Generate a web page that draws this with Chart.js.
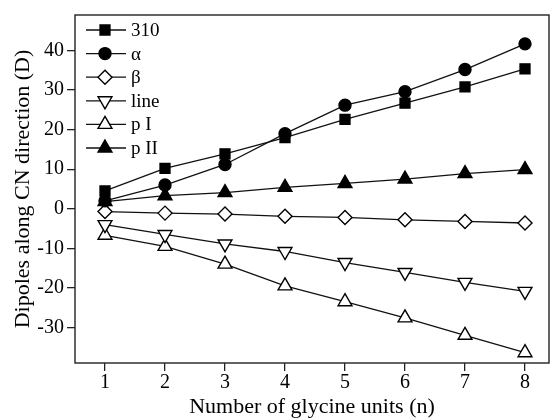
<!DOCTYPE html>
<html>
<head>
<meta charset="utf-8">
<script src="https://cdn.jsdelivr.net/npm/chart.js@4/dist/chart.umd.min.js"></script>
<style>
html,body{margin:0;padding:0;background:#fff;}
#wrap{width:550px;height:420px;position:relative;}
</style>
</head>
<body>
<div id="wrap"><canvas id="c" width="550" height="420"></canvas></div>
<script>
const units = [1, 2, 3, 4, 5, 6, 7, 8];
const s310 = [4.5, 10.2, 13.9, 18.0, 22.6, 26.7, 30.8, 35.4];
const sAlpha = [2.0, 6.0, 11.2, 19.0, 26.2, 29.6, 35.2, 41.7];
const sBeta = [-0.7, -1.1, -1.35, -1.9, -2.2, -2.8, -3.2, -3.6];
const sLine = [-4.0, -6.5, -8.9, -10.8, -13.6, -16.1, -18.6, -20.9];
const sPI = [-6.7, -9.5, -14.0, -19.5, -23.5, -27.6, -32.0, -36.4];
const sPII = [1.8, 3.3, 4.1, 5.4, 6.4, 7.5, 8.9, 9.9];
const xTicks = [1, 2, 3, 4, 5, 6, 7, 8];
const yTicks = [-30, -20, -10, 0, 10, 20, 30, 40];
const seriesNames = ['310', 'α', 'β', 'line', 'p I', 'p II'];

const FONT = "'Liberation Serif', 'DejaVu Serif', serif";
const styles = [
  {pointStyle: 'rect', r: 7, fill: '#000', rot: 0},
  {pointStyle: 'circle', r: 6, fill: '#000', rot: 0},
  {pointStyle: 'rectRot', r: 7, fill: '#fff', rot: 0},
  {pointStyle: 'triangle', r: 8, fill: '#fff', rot: 180},
  {pointStyle: 'triangle', r: 8, fill: '#fff', rot: 0},
  {pointStyle: 'triangle', r: 8, fill: '#000', rot: 0}
];
const allSeries = [s310, sAlpha, sBeta, sLine, sPI, sPII];

const datasets = allSeries.map((vals, i) => ({
  label: seriesNames[i],
  data: units.map((u, j) => ({x: u, y: vals[j]})),
  borderColor: '#111',
  borderWidth: 1.3,
  pointStyle: styles[i].pointStyle,
  pointRadius: styles[i].r,
  pointRotation: styles[i].rot,
  pointBackgroundColor: styles[i].fill,
  pointBorderColor: '#000',
  pointBorderWidth: 1.4,
  showLine: true,
  tension: 0,
  clip: false
}));

const framePlugin = {
  id: 'frame',
  afterDatasetsDraw(chart) {
    const {ctx, chartArea: a} = chart;
    ctx.save();
    ctx.strokeStyle = '#222';
    ctx.lineWidth = 1.4;
    ctx.strokeRect(a.left, a.top, a.right - a.left, a.bottom - a.top);
    ctx.restore();
  }
};

const legendPlugin = {
  id: 'innerLegend',
  afterDatasetsDraw(chart) {
    const {ctx, chartArea: a} = chart;
    ctx.save();
    const x0 = a.left + 11, x1 = a.left + 51, xm = a.left + 30;
    const y0 = a.top + 15, dy = 23.6;
    ctx.font = '19px ' + FONT;
    ctx.textBaseline = 'middle';
    ctx.textAlign = 'left';
    seriesNames.forEach((name, i) => {
      const y = y0 + i * dy;
      ctx.strokeStyle = '#111';
      ctx.lineWidth = 1.3;
      ctx.beginPath();
      ctx.moveTo(x0, y);
      ctx.lineTo(x1, y);
      ctx.stroke();
      ctx.fillStyle = styles[i].fill;
      ctx.strokeStyle = '#000';
      ctx.lineWidth = 1.4;
      Chart.helpers.drawPoint(ctx, {pointStyle: styles[i].pointStyle, radius: styles[i].r, rotation: styles[i].rot, borderWidth: 1.4}, xm, y);
      ctx.fillStyle = '#000';
      ctx.fillText(name, a.left + 56, y + 1);
    });
    ctx.restore();
  }
};

new Chart(document.getElementById('c'), {
  type: 'scatter',
  data: {datasets},
  options: {
    responsive: false,
    animation: false,
    layout: {autoPadding: false, padding: {top: 10, right: 1, left: 0, bottom: 0}},
    plugins: {legend: {display: false}, tooltip: {enabled: false}},
    scales: {
      x: {
        type: 'linear',
        min: 0.5,
        max: 8.4,
        afterBuildTicks: s => { s.ticks = xTicks.map(v => ({value: v})); },
        afterFit: s => { s.height = 57; },
        border: {display: false},
        grid: {drawOnChartArea: false, tickLength: 8, color: '#222', lineWidth: 1.3},
        ticks: {color: '#000', font: {family: FONT, size: 20}, padding: 0, maxRotation: 0},
        title: {display: true, text: 'Number of glycine units (n)', color: '#000', font: {family: FONT, size: 22}, padding: {top: 0, bottom: 0}}
      },
      y: {
        type: 'linear',
        min: -39,
        max: 49,
        afterBuildTicks: s => { s.ticks = yTicks.map(v => ({value: v})); },
        afterFit: s => { s.width = 75; },
        border: {display: false},
        grid: {drawOnChartArea: false, tickLength: 8, color: '#222', lineWidth: 1.3},
        ticks: {color: '#000', font: {family: FONT, size: 20}, padding: 3},
        title: {display: true, text: 'Dipoles along CN direction (D)', color: '#000', font: {family: FONT, size: 22}, padding: {top: 10, bottom: 0}}
      }
    }
  },
  plugins: [framePlugin, legendPlugin]
});
</script>
</body>
</html>
